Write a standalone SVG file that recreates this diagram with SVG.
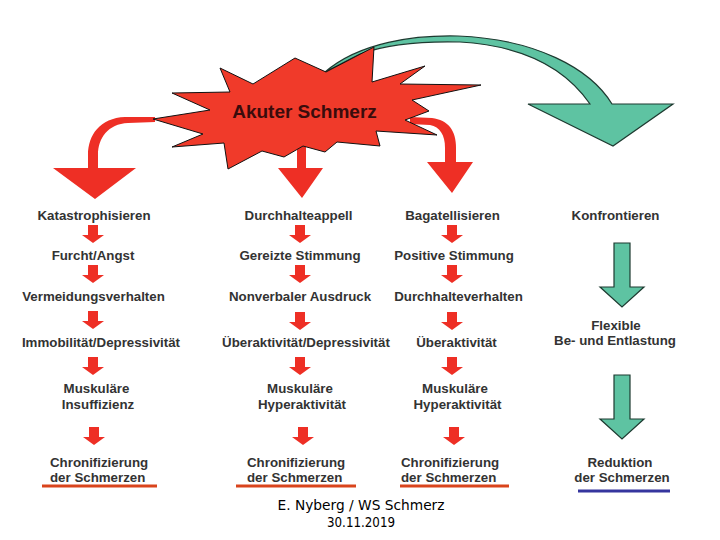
<svg xmlns="http://www.w3.org/2000/svg" xmlns:xlink="http://www.w3.org/1999/xlink" width="720" height="540" viewBox="0 0 720 540">
<style>
.t{font-family:"Liberation Sans",Arial,sans-serif;font-weight:bold;font-size:13.3px;fill:#333;text-anchor:middle}
.tl{font-family:"Liberation Sans",Arial,sans-serif;font-weight:bold;font-size:13.3px;fill:#333}
.red{fill:#ee2f25}
.grn{fill:#5ec3a2;stroke:#1d3a30;stroke-width:1.2;stroke-linejoin:miter}
.ul{stroke:#d9441c;stroke-width:3}
.ub{stroke:#35359e;stroke-width:3}
.ft{font-family:"DejaVu Sans","Liberation Sans",sans-serif;font-size:14px;fill:#000;text-anchor:middle}
</style>
<defs>
<path id="ra" class="red" d="M-5,0 h10 v10 h6 l-11,8 l-11,-8 h6 z"/>
<path id="ga" class="grn" d="M-8,0 h16 v44 h14 l-22,20 l-22,-20 h14 z"/>
</defs>
<rect width="720" height="540" fill="#fff"/>
<g id="connectors">
<path id="green-top" class="grn" d="M325,72 C360,42 415,35 458,36 C535,39 590,68 612,104 L673,104 L613,146 L528,104 L590,104 C568,72 528,46 460,42 C420,41 388,44 360,54 Z"/>
<path class="red" d="M155,117 L125,117 C100,118 88,135 88,155 L88,168 L53,168 L95,199 L136,168 L98,168 L98,155 C98,138 108,124 128,123 L155,122 Z"/>
<path class="red" d="M297,140 L306,140 L306,168 L323,168 L302,198 L278,168 L297,168 Z"/>
<path class="red" d="M410,117 L432,118 C448,120 456,130 456,148 L456,162 L473,162 L452,193 L427,162 L445,162 L445,148 C445,135 440,127 430,125 L410,124 Z"/>
<use href="#ra" x="93" y="225"/><use href="#ra" x="93" y="265"/><use href="#ra" x="93" y="311"/><use href="#ra" x="93" y="357"/><use href="#ra" x="94" y="427"/>
<use href="#ra" x="300" y="225"/><use href="#ra" x="300" y="265"/><use href="#ra" x="300" y="312"/><use href="#ra" x="300" y="357"/><use href="#ra" x="303" y="427"/>
<use href="#ra" x="452" y="225"/><use href="#ra" x="452" y="265"/><use href="#ra" x="452" y="312"/><use href="#ra" x="452" y="357"/><use href="#ra" x="454" y="427"/>
<use href="#ga" x="622" y="243"/>
<use href="#ga" x="622" y="375"/>
</g>
<g id="akuter">
<polygon fill="#f03a2a" stroke="#111" stroke-width="1" points="153,119 210,110 172,93 230,92 220,68 253,84 295,58 326,72 374,47 372,82 425,66 400,84 481,85 412,100 429,111 405,120 437,135 376,131 380,146 337,142 325,152 303,146 284,157 262,151 228,169 224,143 172,147 203,134"/>
<text x="304.5" y="118" font-family="Liberation Sans,Arial,sans-serif" font-weight="bold" font-size="19" fill="#3a0c0c" text-anchor="middle">Akuter Schmerz</text>
</g>
<g id="col1">
<text class="t" x="94" y="220">Katastrophisieren</text>
<text class="t" x="93" y="260">Furcht/Angst</text>
<text class="t" x="93.5" y="301">Vermeidungsverhalten</text>
<text class="t" x="101" y="347">Immobilität/Depressivität</text>
<text class="t" x="96.5" y="393">Muskuläre</text>
<text class="t" x="98" y="409">Insuffizienz</text>
<text class="tl" x="50" y="467">Chronifizierung</text>
<text class="tl" x="50" y="482">der Schmerzen</text>
<line class="ul" x1="42" y1="486" x2="157" y2="486"/>
</g>
<g id="col2">
<text class="t" x="298.5" y="220">Durchhalteappell</text>
<text class="t" x="300" y="260">Gereizte Stimmung</text>
<text class="t" x="300" y="301">Nonverbaler Ausdruck</text>
<text class="t" x="306" y="347">Überaktivität/Depressivität</text>
<text class="t" x="300" y="393">Muskuläre</text>
<text class="t" x="302" y="409">Hyperaktivität</text>
<text class="tl" x="247" y="467">Chronifizierung</text>
<text class="tl" x="247" y="482">der Schmerzen</text>
<line class="ul" x1="236" y1="486" x2="356" y2="486"/>
</g>
<g id="col3">
<text class="t" x="452.5" y="220">Bagatellisieren</text>
<text class="t" x="454" y="260">Positive Stimmung</text>
<text class="t" x="458.5" y="301">Durchhalteverhalten</text>
<text class="t" x="456.5" y="347">Überaktivität</text>
<text class="t" x="455" y="393">Muskuläre</text>
<text class="t" x="457.5" y="409">Hyperaktivität</text>
<text class="tl" x="401" y="467">Chronifizierung</text>
<text class="tl" x="401" y="482">der Schmerzen</text>
<line class="ul" x1="400" y1="486" x2="509" y2="486"/>
</g>
<g id="col4">
<text class="t" x="615.5" y="220">Konfrontieren</text>
<text class="t" x="616" y="330">Flexible</text>
<text class="t" x="615" y="345">Be- und Entlastung</text>
<text class="t" x="620" y="467">Reduktion</text>
<text class="t" x="622" y="482">der Schmerzen</text>
<line class="ub" x1="578" y1="491" x2="670" y2="491"/>
</g>
<g id="footer">
<text class="ft" x="361" y="510" textLength="167" lengthAdjust="spacingAndGlyphs">E. Nyberg / WS Schmerz</text>
<text class="ft" x="361" y="527" textLength="68" lengthAdjust="spacingAndGlyphs">30.11.2019</text>
</g>
</svg>
